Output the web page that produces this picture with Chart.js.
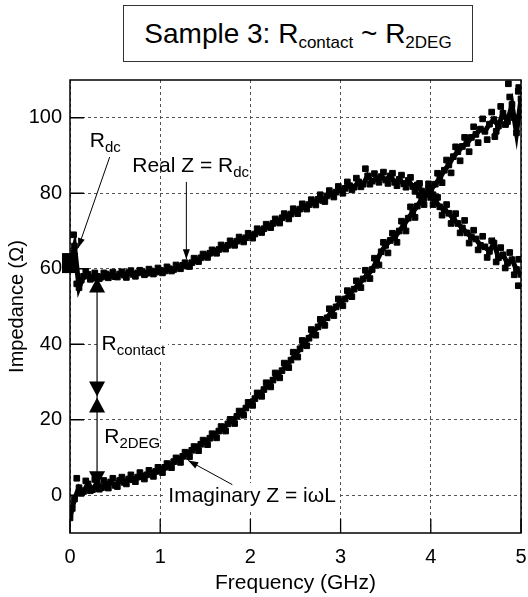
<!DOCTYPE html>
<html>
<head>
<meta charset="utf-8">
<script src="https://cdn.jsdelivr.net/npm/chart.js@4"></script>
<style>
  html, body { margin: 0; padding: 0; background: #fff; }
  #wrap { position: relative; width: 528px; height: 597px; }
  #title {
    position: absolute; left: 123px; top: 5px; width: 350px; height: 57px;
    box-sizing: border-box; border: 1px solid #333; background: #fff;
    font-family: "Liberation Sans", Arial, sans-serif; font-size: 28px;
    text-align: center; line-height: 55px; color: #000;
  }
  #title sub { font-size: 17px; vertical-align: -5px; line-height: 0; }
</style>
</head>
<body>
<div id="wrap">
  <canvas id="chart" width="528" height="597"></canvas>
  <div id="title">Sample 3: R<sub>contact</sub> ~ R<sub>2DEG</sub></div>
</div>
<script>
// 주파수 (GHz)
const freq = [
  0.00, 0.05, 0.10, 0.15, 0.20, 0.25, 0.30, 0.35, 0.40, 0.45,
  0.50, 0.55, 0.60, 0.65, 0.70, 0.75, 0.80, 0.85, 0.90, 0.95,
  1.00, 1.05, 1.10, 1.15, 1.20, 1.25, 1.30, 1.35, 1.40, 1.45,
  1.50, 1.55, 1.60, 1.65, 1.70, 1.75, 1.80, 1.85, 1.90, 1.95,
  2.00, 2.05, 2.10, 2.15, 2.20, 2.25, 2.30, 2.35, 2.40, 2.45,
  2.50, 2.55, 2.60, 2.65, 2.70, 2.75, 2.80, 2.85, 2.90, 2.95,
  3.00, 3.05, 3.10, 3.15, 3.20, 3.25, 3.30, 3.35, 3.40, 3.45,
  3.50, 3.55, 3.60, 3.65, 3.70, 3.75, 3.80, 3.85, 3.90, 3.95,
  4.00, 4.05, 4.10, 4.15, 4.20, 4.25, 4.30, 4.35, 4.40, 4.45,
  4.50, 4.55, 4.60, 4.65, 4.70, 4.75, 4.80, 4.85, 4.90, 4.95,
  5.00
];

// Real Z (Ω)
const realZ = [
  61.0, 66.0, 55.0, 58.0, 58.5, 57.5, 58.0, 57.8, 58.6, 58.2,
  57.9, 58.6, 58.3, 59.0, 58.5, 58.9, 59.2, 58.8, 59.4, 59.1,
  59.6, 59.4, 60.0, 59.8, 60.5, 60.9, 60.7, 61.6, 62.3, 62.9,
  63.5, 64.1, 64.6, 65.1, 65.7, 66.2, 66.8, 67.3, 67.8, 68.2,
  68.8, 69.2, 70.0, 70.6, 71.3, 72.0, 72.6, 73.5, 74.0, 74.5,
  75.3, 75.8, 76.4, 77.0, 77.6, 78.4, 78.1, 79.3, 79.8, 80.3,
  80.9, 81.3, 82.0, 81.6, 83.0, 82.4, 84.6, 83.2, 83.8, 84.4,
  83.5, 84.6, 82.9, 83.7, 82.5, 83.4, 81.8, 82.2, 80.6, 80.1,
  78.9, 78.0, 76.4, 75.6, 74.7, 73.2, 72.0, 70.8, 69.5, 68.4,
  67.9, 66.2, 65.8, 64.6, 66.8, 62.9, 63.7, 61.5, 62.4, 59.8,
  58.5
];

// Imaginary Z (Ω)
const imagZ = [
  -6.0, -1.0, 2.0, 1.0, 3.0, 1.5, 3.2, 2.0, 2.8, 3.5,
  2.6, 3.9, 3.4, 4.3, 4.1, 4.8, 5.0, 5.4, 5.9, 6.3,
  6.8, 7.4, 8.0, 8.9, 9.5, 10.3, 11.0, 11.9, 12.7, 13.5,
  14.2, 15.1, 16.0, 17.0, 17.8, 18.9, 19.8, 20.9, 22.0, 23.1,
  24.5, 25.6, 26.7, 28.0, 29.3, 30.5, 31.9, 33.0, 34.4, 35.8,
  37.2, 38.8, 40.5, 41.6, 43.3, 44.6, 46.2, 47.0, 48.6, 49.9,
  51.2, 52.0, 53.4, 54.6, 55.8, 57.3, 58.4, 59.8, 62.0, 64.5,
  66.2, 67.5, 68.3, 70.0, 71.5, 73.4, 75.0, 76.6, 78.4, 79.8,
  81.0, 82.4, 84.0, 86.1, 87.5, 89.7, 91.0, 92.4, 93.2, 94.8,
  95.6, 97.0, 96.4, 98.3, 99.5, 97.8, 101.2, 99.0, 103.5, 96.0,
  105.0
];

// 사이 주파수의 측정점 (흩어진 점)
const freqMid = [
  0.025, 0.075, 0.125, 0.175, 0.225, 0.275, 0.325, 0.375, 0.425, 0.475,
  0.525, 0.575, 0.625, 0.675, 0.725, 0.775, 0.825, 0.875, 0.925, 0.975,
  1.025, 1.075, 1.125, 1.175, 1.225, 1.275, 1.325, 1.375, 1.425, 1.475,
  1.525, 1.575, 1.625, 1.675, 1.725, 1.775, 1.825, 1.875, 1.925, 1.975,
  2.025, 2.075, 2.125, 2.175, 2.225, 2.275, 2.325, 2.375, 2.425, 2.475,
  2.525, 2.575, 2.625, 2.675, 2.725, 2.775, 2.825, 2.875, 2.925, 2.975,
  3.025, 3.075, 3.125, 3.175, 3.225, 3.275, 3.325, 3.375, 3.425, 3.475,
  3.525, 3.575, 3.625, 3.675, 3.725, 3.775, 3.825, 3.875, 3.925, 3.975,
  4.025, 4.075, 4.125, 4.175, 4.225, 4.275, 4.325, 4.375, 4.425, 4.475,
  4.525, 4.575, 4.625, 4.675, 4.725, 4.775, 4.825, 4.875, 4.925, 4.975
];

const realMid = [
  63.0, 56.0, 57.0, 59.3, 57.2, 58.9, 57.4, 58.9, 57.6, 59.1,
  57.8, 59.2, 57.7, 59.5, 58.0, 59.6, 58.4, 59.9, 58.6, 60.2,
  58.9, 60.5, 59.4, 61.0, 60.0, 61.6, 60.6, 62.8, 61.9, 63.9,
  63.0, 65.0, 64.1, 66.3, 65.2, 67.4, 66.2, 68.4, 67.1, 69.4,
  68.1, 70.6, 69.6, 71.8, 70.9, 73.2, 72.1, 74.6, 73.2, 75.9,
  74.6, 77.2, 75.8, 78.3, 76.9, 79.6, 77.8, 80.7, 79.0, 81.8,
  80.0, 83.0, 80.9, 84.0, 81.7, 86.5, 82.4, 85.2, 82.9, 85.6,
  82.6, 85.3, 82.0, 84.8, 81.6, 84.2, 80.5, 82.6, 78.7, 81.2,
  77.0, 78.9, 74.2, 77.0, 72.0, 74.6, 69.5, 72.8, 66.8, 70.2,
  65.0, 68.6, 63.0, 67.4, 61.8, 65.6, 60.2, 64.3, 58.4, 62.5
];

const imagMid = [
  -3.5, 4.5, 0.5, 3.8, 1.2, 4.2, 1.6, 3.9, 1.9, 4.5,
  2.3, 4.8, 3.0, 5.4, 3.6, 6.0, 4.3, 6.6, 5.0, 7.4,
  6.0, 8.4, 7.3, 9.9, 8.7, 11.4, 10.2, 12.9, 11.8, 14.6,
  13.4, 16.3, 15.2, 18.2, 17.0, 20.1, 19.0, 22.3, 21.2, 24.6,
  23.8, 27.1, 26.2, 29.8, 28.7, 32.4, 31.1, 35.0, 33.8, 37.9,
  36.6, 41.0, 39.6, 43.9, 42.4, 46.6, 45.0, 49.4, 47.6, 52.0,
  50.2, 54.2, 52.6, 56.8, 55.0, 59.6, 57.4, 62.8, 61.0, 67.0,
  64.2, 69.4, 67.0, 72.6, 70.0, 76.4, 73.6, 79.5, 77.0, 82.5,
  79.6, 85.3, 82.8, 88.8, 85.4, 92.3, 88.6, 94.8, 91.0, 97.6,
  93.4, 99.7, 94.2, 101.5, 96.4, 103.0, 98.2, 105.5, 100.0, 108.0
];

// 튀는 점들 (고주파 끝)
const outlierF = [4.86, 4.97, 4.71, 4.97, 0.04];
const outlierZ = [109.0, 107.0, 95.0, 55.5, 69.0];

// R_dc 표시 (f = 0)
const rdcF = [0];
const rdcZ = [61.5];

const xTicks = [0, 1, 2, 3, 4, 5];
const yTicks = [0, 20, 40, 60, 80, 100];

const FONT = "'Liberation Sans', Arial, sans-serif";

function toPoints(xs, ys) {
  return xs.map((v, i) => ({ x: v, y: ys[i] }));
}

// 주석: [텍스트, 아래첨자, f, Z(기준선), 흰배경]
const labels = [
  ['R', 'dc', 0.22, 92.3, false],
  ['Real Z = R', 'dc', 0.69, 85.5, false],
  ['R', 'contact', 0.35, 38.5, true],
  ['R', '2DEG', 0.38, 13.8, false],
  ['Imaginary Z = i\u03C9L', '', 1.09, -1.8, true]
];

// 화살표: [f1, Z1, f2, Z2] (f2,Z2 쪽에 화살촉)
const arrows = [
  [0.44, 89.6, 0.09, 65.5],
  [1.29, 83.0, 1.29, 62.5],
  [1.80, 2.8, 1.31, 9.2]
];

// 양방향 화살표 (f = 0.3)
const spanF = 0.3;
const spanTop = 57.7, spanMid = 26.0, spanBottom = 2.4;

function drawHead(ctx, x1, y1, x2, y2, len, half) {
  const ang = Math.atan2(y2 - y1, x2 - x1);
  ctx.beginPath();
  ctx.moveTo(x2, y2);
  ctx.lineTo(x2 - len * Math.cos(ang) + half * Math.sin(ang), y2 - len * Math.sin(ang) - half * Math.cos(ang));
  ctx.lineTo(x2 - len * Math.cos(ang) - half * Math.sin(ang), y2 - len * Math.sin(ang) + half * Math.cos(ang));
  ctx.closePath();
  ctx.fill();
}

const annotPlugin = {
  id: 'annot',
  afterDatasetsDraw(chart) {
    // R_dc 큰 사각형 (축 밖으로 넘침)
    const { ctx, scales: { x, y } } = chart;
    ctx.save();
    ctx.fillStyle = '#000';
    rdcF.forEach((f, i) => {
      const px = x.getPixelForValue(f);
      const py = y.getPixelForValue(rdcZ[i]);
      ctx.fillRect(px - 8, py - 10, 16, 20);
    });
    ctx.restore();
  },
  afterDraw(chart) {
    const { ctx, chartArea: a, scales: { x, y } } = chart;
    ctx.save();

    // 테두리
    ctx.strokeStyle = '#000';
    ctx.lineWidth = 1.5;
    ctx.strokeRect(a.left, a.top, a.right - a.left, a.bottom - a.top);

    // 안쪽 눈금
    ctx.lineWidth = 1.3;
    ctx.beginPath();
    xTicks.forEach(v => {
      const px = x.getPixelForValue(v);
      ctx.moveTo(px, a.bottom);
      ctx.lineTo(px, a.bottom - 14);
    });
    yTicks.forEach(v => {
      const py = y.getPixelForValue(v);
      ctx.moveTo(a.left, py);
      ctx.lineTo(a.left + 14, py);
    });
    ctx.stroke();

    // 라벨
    ctx.fillStyle = '#000';
    ctx.textBaseline = 'alphabetic';
    labels.forEach(([main, sub, f, z, bg]) => {
      const px = x.getPixelForValue(f);
      const py = y.getPixelForValue(z);
      ctx.font = '21px ' + FONT;
      const w1 = ctx.measureText(main).width;
      ctx.font = '15px ' + FONT;
      const w2 = sub ? ctx.measureText(sub).width : 0;
      if (bg) {
        ctx.fillStyle = '#fff';
        ctx.fillRect(px - 3, py - 19, w1 + w2 + 6, 28);
        ctx.fillStyle = '#000';
      }
      ctx.font = '21px ' + FONT;
      ctx.fillText(main, px, py);
      if (sub) {
        ctx.font = '15px ' + FONT;
        ctx.fillText(sub, px + w1, py + 5);
      }
    });

    // 화살표
    ctx.strokeStyle = '#000';
    ctx.lineWidth = 1;
    arrows.forEach(([f1, z1, f2, z2]) => {
      const x1 = x.getPixelForValue(f1), y1 = y.getPixelForValue(z1);
      const x2 = x.getPixelForValue(f2), y2 = y.getPixelForValue(z2);
      ctx.beginPath();
      ctx.moveTo(x1, y1);
      ctx.lineTo(x2, y2);
      ctx.stroke();
      drawHead(ctx, x1, y1, x2, y2, 10, 3.5);
    });

    // R_contact / R_2DEG 양방향 화살표
    const sx = x.getPixelForValue(spanF);
    const yt = y.getPixelForValue(spanTop);
    const ym = y.getPixelForValue(spanMid);
    const yb = y.getPixelForValue(spanBottom);
    ctx.lineWidth = 1.2;
    ctx.beginPath();
    ctx.moveTo(sx, yt);
    ctx.lineTo(sx, yb);
    ctx.stroke();
    const tri = (tipY, dir) => {
      ctx.beginPath();
      ctx.moveTo(sx, tipY);
      ctx.lineTo(sx - 8, tipY + dir * 15);
      ctx.lineTo(sx + 8, tipY + dir * 15);
      ctx.closePath();
      ctx.fill();
    };
    tri(yt, 1);
    tri(ym - 0.5, -1);
    tri(ym + 0.5, 1);
    tri(yb, -1);

    ctx.restore();
  }
};

const markStyle = {
  borderColor: '#000',
  backgroundColor: '#000',
  pointStyle: 'rect',
  pointRadius: 4,
  pointBorderWidth: 1,
  borderWidth: 5,
  showLine: true,
  tension: 0
};

const dotStyle = {
  borderColor: '#000',
  backgroundColor: '#000',
  pointStyle: 'rect',
  pointRadius: 4,
  showLine: false
};

new Chart(document.getElementById('chart'), {
  type: 'line',
  data: {
    datasets: [
      Object.assign({ label: 'Real Z', data: toPoints(freq, realZ) }, markStyle),
      Object.assign({ label: 'Imaginary Z', data: toPoints(freq, imagZ) }, markStyle),
      Object.assign({ label: 'Real Z (mid)', data: toPoints(freqMid, realMid) }, dotStyle),
      Object.assign({ label: 'Imaginary Z (mid)', data: toPoints(freqMid, imagMid) }, dotStyle),
      Object.assign({ label: 'outliers', data: toPoints(outlierF, outlierZ) }, dotStyle)
    ]
  },
  options: {
    responsive: false,
    animation: false,
    layout: { padding: { top: 80, right: 7, left: 0, bottom: 0 } },
    plugins: {
      legend: { display: false },
      tooltip: { enabled: false }
    },
    scales: {
      x: {
        type: 'linear',
        min: 0,
        max: 5,
        afterBuildTicks: s => { s.ticks = xTicks.map(v => ({ value: v })); },
        afterFit: s => { s.height = 64; s.paddingLeft = 0; s.paddingRight = 0; },
        grid: { color: '#555', lineWidth: 1, drawTicks: false, borderDash: [3, 3] },
        border: { display: false, dash: [3, 3] },
        ticks: { color: '#000', padding: 12, font: { size: 20, family: FONT } },
        title: {
          display: true,
          text: 'Frequency (GHz)',
          color: '#000',
          font: { size: 21, family: FONT },
          padding: { top: 2, bottom: 1 }
        }
      },
      y: {
        type: 'linear',
        min: -10,
        max: 110,
        afterBuildTicks: s => { s.ticks = yTicks.map(v => ({ value: v })); },
        afterFit: s => { s.width = 70; s.paddingTop = 0; s.paddingBottom = 0; },
        grid: { color: '#555', lineWidth: 1, drawTicks: false, borderDash: [3, 3] },
        border: { display: false, dash: [3, 3] },
        ticks: { color: '#000', padding: 8, font: { size: 20, family: FONT } },
        title: {
          display: true,
          text: 'Impedance (\u03A9)',
          color: '#000',
          font: { size: 20, family: FONT },
          padding: { top: 5, bottom: 4 }
        }
      }
    }
  },
  plugins: [annotPlugin]
});
</script>
</body>
</html>
